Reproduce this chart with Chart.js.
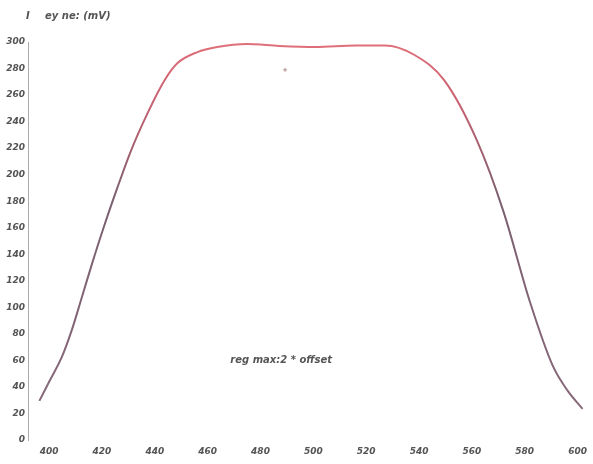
<!DOCTYPE html>
<html>
<head>
<meta charset="utf-8">
<script src="https://cdn.jsdelivr.net/npm/chart.js@4.4.1/dist/chart.umd.min.js"></script>
<style>
html,body{margin:0;padding:0;background:#fff;}
#wrap{width:593px;height:464px;position:relative;}
</style>
</head>
<body>
<div id="wrap"><canvas id="c" width="593" height="464"></canvas></div>
<script>
// ---- data ----
const curveX = [396.3, 400.0, 404.9, 408.6, 412.3, 416.1, 420.6, 425.8, 431.0, 437.4, 443.7, 448.6, 456.1, 463.6, 474.8, 487.1, 500.9, 515.9, 527.1, 538.3, 549.5, 561.9, 572.0, 582.0, 590.6, 596.3, 601.9];
const curveY = [29.5, 43.9, 63.0, 83.0, 107.0, 132.0, 160.0, 190.0, 218.2, 247.0, 271.2, 284.1, 292.4, 296.2, 298.5, 297.0, 296.2, 297.4, 297.4, 290.2, 271.2, 225.8, 172.0, 104.0, 56.0, 37.0, 23.5];
const markerX = [489.3];
const markerY = [279];
const xTickLabels = [400, 420, 440, 460, 480, 500, 520, 540, 560, 580, 600];
const yTickLabels = [0, 20, 40, 60, 80, 100, 120, 140, 160, 180, 200, 220, 240, 260, 280, 300];
const yTitleMark = "I";
const yTitle = "ey ne: (mV)";
const xTitle = "reg max:2 * offset";

const curvePts = curveX.map((x, i) => ({x: x, y: curveY[i]}));
const markerPts = markerX.map((x, i) => ({x: x, y: markerY[i]}));

const labelFont = {family: "DejaVu Sans", size: 9, style: "italic", weight: "bold"};

const textPlugin = {
  id: 'texts',
  afterDraw(chart) {
    const ctx = chart.ctx, a = chart.chartArea;
    ctx.save();
    ctx.fillStyle = '#555';
    ctx.font = 'italic bold 10px "DejaVu Sans"';
    ctx.textBaseline = 'middle';
    ctx.textAlign = 'left';
    ctx.fillText(yTitleMark, a.left - 2, 16);
    ctx.fillText(yTitle, a.left + 17, 16);
    ctx.textAlign = 'center';
    ctx.fillText(xTitle, (a.left + a.right) / 2 - 25, a.bottom - 80);
    ctx.restore();
  }
};

new Chart(document.getElementById('c'), {
  type: 'scatter',
  data: {
    datasets: [
      {
        data: curvePts,
        showLine: true,
        cubicInterpolationMode: 'monotone',
        pointRadius: 0,
        borderWidth: 2,
        borderColor: (ctx) => {
          const ch = ctx.chart, a = ch.chartArea;
          if (!a) return '#8a6070';
          const g = ch.ctx.createLinearGradient(0, a.bottom, 0, a.top);
          g.addColorStop(0, '#8a6a7a');
          g.addColorStop(0.6, '#7a6070');
          g.addColorStop(0.85, '#c86070');
          g.addColorStop(1, '#e0707a');
          return g;
        }
      },
      {
        data: markerPts,
        showLine: false,
        pointRadius: 2,
        pointStyle: 'cross',
        borderWidth: 1,
        borderColor: '#b09090',
        backgroundColor: '#b09090'
      }
    ]
  },
  options: {
    responsive: false,
    animation: false,
    devicePixelRatio: 1,
    layout: {padding: {top: 42, right: 2, left: 0, bottom: 0}},
    plugins: {legend: {display: false}, tooltip: {enabled: false}, title: {display: false}},
    scales: {
      x: {
        type: 'linear',
        min: 392,
        max: 602.6,
        afterBuildTicks: (s) => { s.ticks = xTickLabels.map(v => ({value: v})); },
        afterFit: (s) => { s.height = 24; },
        grid: {display: false, drawTicks: false},
        border: {display: false},
        ticks: {color: '#555', font: labelFont, padding: 6, maxRotation: 0, autoSkip: false}
      },
      y: {
        min: 0,
        max: 300,
        afterBuildTicks: (s) => { s.ticks = yTickLabels.map(v => ({value: v})); },
        afterFit: (s) => { s.width = 28; },
        grid: {display: false, drawTicks: false},
        border: {display: true, color: '#aaa', width: 1},
        ticks: {color: '#555', font: labelFont, padding: 3, autoSkip: false}
      }
    }
  },
  plugins: [textPlugin]
});
</script>
</body>
</html>
